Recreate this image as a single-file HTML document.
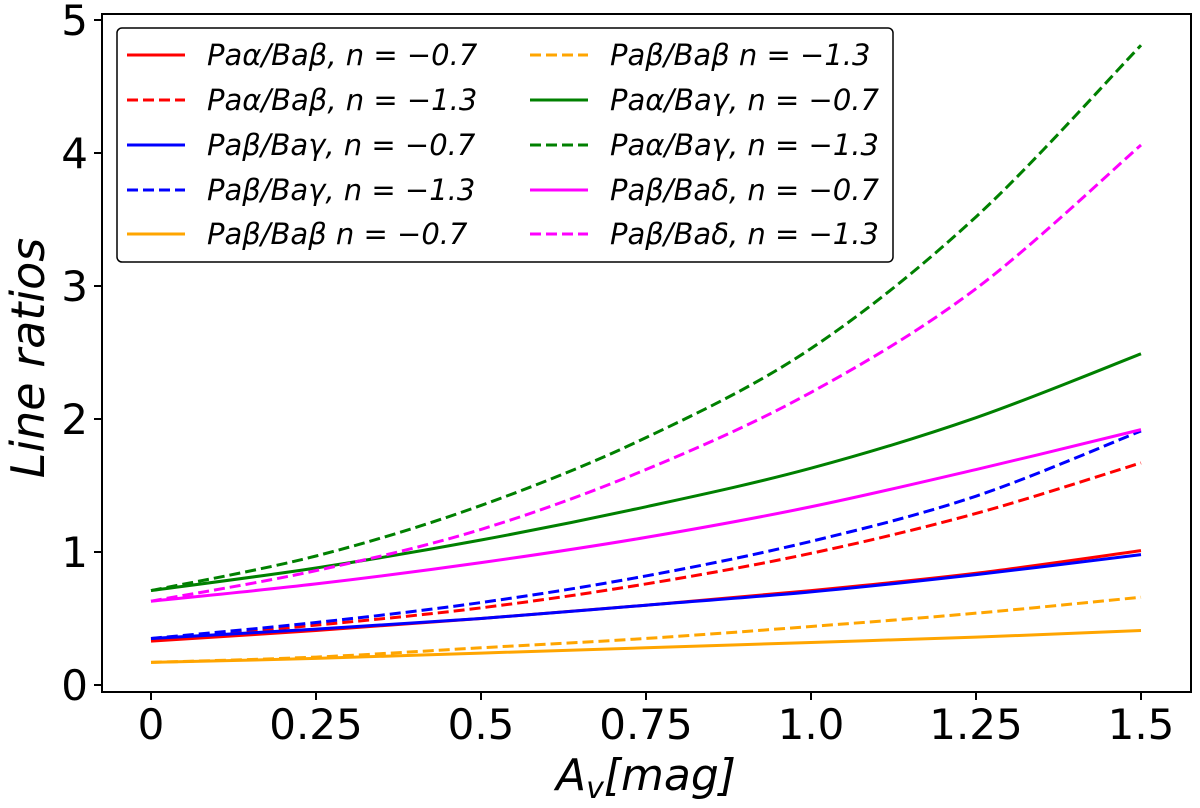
<!DOCTYPE html>
<html><head><meta charset="utf-8"><style>
body{margin:0;background:#fff;}
svg{display:block;font-family:"DejaVu Sans","Liberation Sans",sans-serif;}
</style></head><body>
<svg id="chart" width="1200" height="808" viewBox="0 0 1200 808" xmlns="http://www.w3.org/2000/svg">
<rect x="0" y="0" width="1200" height="808" fill="#fff"/>
<g id="series"></g>
<g id="axes"></g>
<text transform="translate(44,358) rotate(-90)" text-anchor="middle" font-size="46" font-style="italic">Line ratios</text>
<text x="646" y="790" text-anchor="middle" font-size="44" font-style="italic">A<tspan font-size="30" dy="8">v</tspan><tspan dy="-8">[mag]</tspan></text>
<g id="legend"></g>
</svg>
<script>
const xValues = [0, 0.25, 0.5, 0.75, 1.0, 1.25, 1.5];
const xTicks = [0, 0.25, 0.5, 0.75, 1.0, 1.25, 1.5];
const xTickLabels = ["0","0.25","0.5","0.75","1.0","1.25","1.5"];
const yTicks = [0,1,2,3,4,5];
const yTickLabels = ["0","1","2","3","4","5"];
const paAlphaBaBeta07 = [0.33,0.41,0.50,0.60,0.71,0.84,1.01];
const paAlphaBaBeta13 = [0.34,0.45,0.58,0.76,0.99,1.29,1.67];
const paBetaBaGamma07 = [0.35,0.42,0.50,0.60,0.70,0.83,0.98];
const paBetaBaGamma13 = [0.35,0.47,0.62,0.82,1.08,1.42,1.91];
const paBetaBaBeta07 = [0.17,0.20,0.24,0.28,0.32,0.36,0.41];
const paBetaBaBeta13 = [0.17,0.21,0.28,0.35,0.44,0.54,0.66];
const paAlphaBaGamma07 = [0.71,0.88,1.09,1.34,1.63,2.01,2.49];
const paAlphaBaGamma13 = [0.71,0.97,1.35,1.86,2.53,3.52,4.81];
const paBetaBaDelta07 = [0.63,0.76,0.92,1.11,1.34,1.62,1.92];
const paBetaBaDelta13 = [0.63,0.86,1.17,1.62,2.20,2.98,4.06];

const seriesList = [
 {name:"Paα/Baβ, n = −0.7", d:paAlphaBaBeta07, c:"#ff0000", dash:false, id:"pa-alpha-ba-beta-n07"},
 {name:"Paα/Baβ, n = −1.3", d:paAlphaBaBeta13, c:"#ff0000", dash:true, id:"pa-alpha-ba-beta-n13"},
 {name:"Paβ/Baγ, n = −0.7", d:paBetaBaGamma07, c:"#0000ff", dash:false, id:"pa-beta-ba-gamma-n07"},
 {name:"Paβ/Baγ, n = −1.3", d:paBetaBaGamma13, c:"#0000ff", dash:true, id:"pa-beta-ba-gamma-n13"},
 {name:"Paβ/Baβ n = −0.7", d:paBetaBaBeta07, c:"#ffa500", dash:false, id:"pa-beta-ba-beta-n07"},
 {name:"Paβ/Baβ n = −1.3", d:paBetaBaBeta13, c:"#ffa500", dash:true, id:"pa-beta-ba-beta-n13"},
 {name:"Paα/Baγ, n = −0.7", d:paAlphaBaGamma07, c:"#008000", dash:false, id:"pa-alpha-ba-gamma-n07"},
 {name:"Paα/Baγ, n = −1.3", d:paAlphaBaGamma13, c:"#008000", dash:true, id:"pa-alpha-ba-gamma-n13"},
 {name:"Paβ/Baδ, n = −0.7", d:paBetaBaDelta07, c:"#ff00ff", dash:false, id:"pa-beta-ba-delta-n07"},
 {name:"Paβ/Baδ, n = −1.3", d:paBetaBaDelta13, c:"#ff00ff", dash:true, id:"pa-beta-ba-delta-n13"}
];
const NS="http://www.w3.org/2000/svg";
const L=102,R=1191,T=14,B=692;
function sx(v){return 151+v*660;}
function sy(v){return 685-v*133;}
function mk(tag,attrs,parent){const e=document.createElementNS(NS,tag);for(const k in attrs)e.setAttribute(k,attrs[k]);parent.appendChild(e);return e;}
function smoothPath(xs,ys){
  const pts=xs.map((x,i)=>[sx(x),sy(ys[i])]);
  let d="M"+pts[0][0]+","+pts[0][1];
  for(let i=0;i<pts.length-1;i++){
    const p0=pts[Math.max(0,i-1)],p1=pts[i],p2=pts[i+1],p3=pts[Math.min(pts.length-1,i+2)];
    const c1=[p1[0]+(p2[0]-p0[0])/6,p1[1]+(p2[1]-p0[1])/6];
    const c2=[p2[0]-(p3[0]-p1[0])/6,p2[1]-(p3[1]-p1[1])/6];
    d+=" C"+c1[0]+","+c1[1]+" "+c2[0]+","+c2[1]+" "+p2[0]+","+p2[1];
  }
  return d;
}
const sg=document.getElementById("series");
seriesList.forEach(s=>{
  const p=mk("path",{d:smoothPath(xValues,s.d),fill:"none",stroke:s.c,"stroke-width":3,"stroke-dasharray":s.dash?"11,5":"none"},sg);
  
  
});
const ax=document.getElementById("axes");
const fr=mk("rect",{x:L,y:T,width:R-L,height:B-T,fill:"none",stroke:"#000","stroke-width":2},ax);


xTicks.forEach((v,i)=>{
  const t=mk("line",{x1:sx(v),x2:sx(v),y1:B,y2:B+8,stroke:"#000","stroke-width":2},ax);
  
  
  const lb=mk("text",{x:sx(v),y:B+47,"text-anchor":"middle","font-size":42},ax);
  lb.textContent=xTickLabels[i];
  
  
});
yTicks.forEach((v,i)=>{
  const t=mk("line",{x1:L-8,x2:L,y1:sy(v),y2:sy(v),stroke:"#000","stroke-width":2},ax);
  
  
  const lb=mk("text",{x:L-14,y:sy(v)+15,"text-anchor":"end","font-size":42},ax);
  lb.textContent=yTickLabels[i];
  
  
});
const lg=document.getElementById("legend");
const box=mk("rect",{x:117,y:28,width:776,height:234,rx:5,fill:"#fff","fill-opacity":0.8,stroke:"#000","stroke-width":1.5},lg);


const rows=[53,98,143,188,232];
seriesList.forEach((s,i)=>{
  const col=Math.floor(i/5),row=i%5;
  const y=rows[row];
  const hx=col?530:127, tx=col?610:207;
  const ln=mk("line",{x1:hx,x2:hx+58,y1:y+2,y2:y+2,stroke:s.c,"stroke-width":3,"stroke-dasharray":s.dash?"11,5":"none"},lg);
  
  
  const tx0=mk("text",{x:tx,y:y+12,"font-size":29,"font-style":"italic"},lg);
  tx0.textContent=s.name;
  
  
});
</script>
</body></html>
